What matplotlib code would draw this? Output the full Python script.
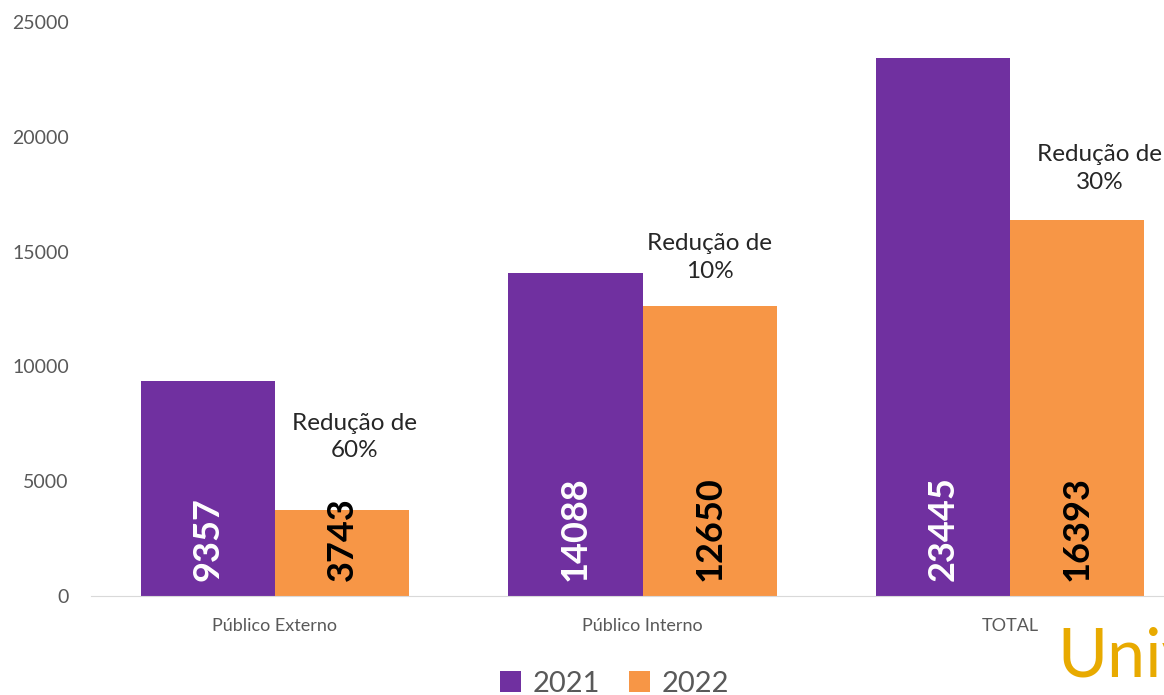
import matplotlib
matplotlib.use("Agg")
import matplotlib.pyplot as plt
import numpy as np

plt.rcParams["font.family"] = ["Lato", "DejaVu Sans"]

categories = ["Público Externo", "Público Interno", "TOTAL"]
anos = ["2021", "2022"]
valores_2021 = [9357, 14088, 23445]
valores_2022 = [3743, 12650, 16393]
reducoes = ["Redução de\n60%", "Redução de\n10%", "Redução de\n30%"]
yticks = [0, 5000, 10000, 15000, 20000, 25000]

ROXO = "#7030A0"
LARANJA = "#F79646"
CINZA = "#595959"
OURO = "#E8AA00"

fig = plt.figure(figsize=(11.64, 6.95), dpi=100, facecolor="white")
ax = fig.add_axes([0.0782, 0.1424, 0.9476, 0.8259])

x = np.arange(len(categories))
w = 0.365
b1 = ax.bar(x - w / 2, valores_2021, w, color=ROXO, label=anos[0])
b2 = ax.bar(x + w / 2, valores_2022, w, color=LARANJA, label=anos[1])

# rótulos verticais dentro das barras, junto à base
for rect, v in zip(b1, valores_2021):
    ax.annotate(str(v), (rect.get_x() + rect.get_width() / 2, 0),
                xytext=(0, 11), textcoords="offset points",
                rotation=90, ha="center", va="bottom",
                color="white", fontsize=26, fontweight="bold")
for rect, v in zip(b2, valores_2022):
    ax.annotate(str(v), (rect.get_x() + rect.get_width() / 2, 0),
                xytext=(0, 11), textcoords="offset points",
                rotation=90, ha="center", va="bottom",
                color="black", fontsize=26, fontweight="bold")

# textos de redução acima das barras de 2022
desloc = [(9, 35), (0, 17), (16, 19)]
for rect, txt, (dx, dy) in zip(b2, reducoes, desloc):
    ax.annotate(txt, (rect.get_x() + rect.get_width() / 2, rect.get_height()),
                xytext=(dx, dy), textcoords="offset points",
                ha="center", va="bottom", color="#262626",
                fontsize=17.5, linespacing=1.4, annotation_clip=False)

ax.set_xlim(-0.5, len(categories) - 0.5)
ax.set_ylim(0, 25000)
ax.set_yticks(yticks)
ax.set_xticks(x)
ax.set_xticklabels(categories, fontsize=13, color=CINZA)
ax.tick_params(axis="y", labelsize=14, labelcolor=CINZA, length=0, pad=16)
ax.tick_params(axis="x", length=0, pad=16)
for s in ("top", "right", "left"):
    ax.spines[s].set_visible(False)
ax.spines["bottom"].set_color("#D9D9D9")

fig.legend(handles=[b1, b2], loc="lower center", bbox_to_anchor=(0.528, -0.04),
           ncol=2, frameon=False, fontsize=21, labelcolor=CINZA,
           handlelength=0.7, handleheight=0.7, handletextpad=0.4, columnspacing=1.0)

fig.text(0.908, 0.026, "Univ", color=OURO, fontsize=49, ha="left", va="baseline")

fig.savefig("out.png", dpi=100, facecolor="white")
